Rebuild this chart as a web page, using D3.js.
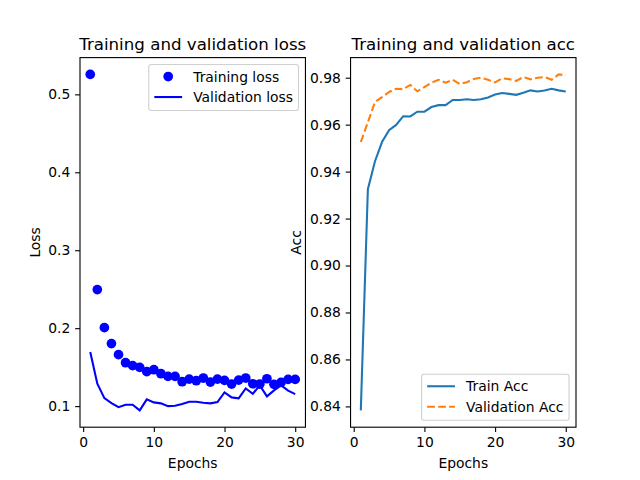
<!DOCTYPE html>
<html>
<head>
<meta charset="utf-8">
<script src="https://cdn.jsdelivr.net/npm/d3@7"></script>
<style>
 body { margin: 0; background: #fff; }
 text { font-family: "DejaVu Sans", sans-serif; fill: #000; }
</style>
</head>
<body>
<div id="chart"></div>
<script>
const epochs = [1, 2, 3, 4, 5, 6, 7, 8, 9, 10, 11, 12, 13, 14, 15, 16, 17, 18, 19, 20, 21, 22, 23, 24, 25, 26, 27, 28, 29, 30];
const trainLoss = [0.5256, 0.2495, 0.2007, 0.1802, 0.1660, 0.1557, 0.1519, 0.1497, 0.1442, 0.1467, 0.1416, 0.1382, 0.1382, 0.1313, 0.1347, 0.1326, 0.1360, 0.1308, 0.1347, 0.1330, 0.1283, 0.1334, 0.1360, 0.1287, 0.1283, 0.1351, 0.1279, 0.1304, 0.1343, 0.1343];
const valLoss = [0.1694, 0.1288, 0.1103, 0.1039, 0.0987, 0.1018, 0.1018, 0.0945, 0.1086, 0.1048, 0.1035, 0.1000, 0.1004, 0.1026, 0.1056, 0.1056, 0.1043, 0.1035, 0.1052, 0.1176, 0.1112, 0.1099, 0.1227, 0.1159, 0.1266, 0.1125, 0.1202, 0.1266, 0.1198, 0.1154];
const trainAcc = [0.8383, 0.9325, 0.9443, 0.9526, 0.9576, 0.9599, 0.9636, 0.9635, 0.9655, 0.9655, 0.9675, 0.9683, 0.9683, 0.9705, 0.9705, 0.9708, 0.9705, 0.9708, 0.9716, 0.9728, 0.9735, 0.9731, 0.9727, 0.9736, 0.9746, 0.9741, 0.9745, 0.9753, 0.9746, 0.9741];
const valAcc = [0.9526, 0.9610, 0.9696, 0.9717, 0.9739, 0.9753, 0.9751, 0.9769, 0.9742, 0.9760, 0.9779, 0.9791, 0.9779, 0.9791, 0.9773, 0.9781, 0.9794, 0.9800, 0.9791, 0.9780, 0.9797, 0.9794, 0.9786, 0.9803, 0.9793, 0.9800, 0.9803, 0.9791, 0.9814, 0.9810];
const xTicks = [0, 10, 20, 30];
const lossTicks = [0.1, 0.2, 0.3, 0.4, 0.5];
const accTicks = [0.84, 0.86, 0.88, 0.90, 0.92, 0.94, 0.96, 0.98];
const lossLabels = ["Training loss", "Validation loss"];
const accLabels = ["Train Acc", "Validation Acc"];

const W = 640, H = 480;
const plotTop = 57.6, plotBottom = 427.2;
const pt = 100 / 72; // figure is 100 dpi
const fs = 10 * pt;
const dotR = 3.5 * pt; // marker plus its edge

const svg = d3.select("#chart").append("svg")
 .attr("width", W).attr("height", H)
 .attr("viewBox", `0 0 ${W} ${H}`);

// matplotlib style 5% margins
const padded = (vals) => {
 const [a, b] = d3.extent(vals);
 const m = (b - a) * 0.05;
 return [a - m, b + m];
};

const drawPanel = (left, right, opts) => {
 const x = d3.scaleLinear().domain(padded(epochs)).range([left, right]);
 const y = d3.scaleLinear().domain(padded(opts.series.flatMap((s) => s.values))).range([plotBottom, plotTop]);
 const g = svg.append("g");

 opts.series.forEach((s) => {
  const pts = epochs.map((e, i) => [e, s.values[i]]);
  if (s.dots) {
   g.selectAll(null).data(pts).enter().append("circle")
    .attr("cx", (d) => x(d[0])).attr("cy", (d) => y(d[1]))
    .attr("r", dotR).attr("fill", s.color);
  } else {
   g.append("path")
    .attr("d", d3.line().x((d) => x(d[0])).y((d) => y(d[1]))(pts))
    .attr("fill", "none").attr("stroke", s.color)
    .attr("stroke-width", 1.5 * pt)
    .attr("stroke-dasharray", s.dash || null);
  }
 });

 const xa = g.append("g").attr("transform", `translate(0,${plotBottom})`)
  .call(d3.axisBottom(x).tickValues(xTicks).tickSize(3.5 * pt).tickPadding(3.5 * pt).tickFormat(d3.format("d")));
 const ya = g.append("g").attr("transform", `translate(${left},0)`)
  .call(d3.axisLeft(y).tickValues(opts.ticks).tickSize(3.5 * pt).tickPadding(3.5 * pt).tickFormat(d3.format(opts.fmt)));
 [xa, ya].forEach((a) => {
  a.select(".domain").remove();
  a.selectAll("line").attr("stroke", "#000").attr("stroke-width", 0.8 * pt);
  a.selectAll("text").attr("font-size", fs).attr("font-family", "DejaVu Sans");
 });

 g.append("rect")
  .attr("x", left).attr("y", plotTop).attr("width", right - left).attr("height", plotBottom - plotTop)
  .attr("fill", "none").attr("stroke", "#000").attr("stroke-width", 0.8 * pt);

 g.append("text").attr("x", (left + right) / 2).attr("y", 49.5)
  .attr("text-anchor", "middle").attr("font-size", 12 * pt).text(opts.title);
 g.append("text").attr("x", (left + right) / 2).attr("y", 468)
  .attr("text-anchor", "middle").attr("font-size", fs).text("Epochs");
 g.append("text").attr("transform", `translate(${opts.ylabelX},${(plotTop + plotBottom) / 2}) rotate(-90)`)
  .attr("text-anchor", "middle").attr("font-size", fs).text(opts.ylabel);

 // legend
 const lg = g.append("g");
 const items = opts.series.map((s, i) => ({ ...s, label: opts.labels[i] }));
 const texts = lg.selectAll(null).data(items).enter().append("text")
  .attr("font-size", fs).text((d) => d.label);
 const tw = d3.max(texts.nodes(), (n) => n.getComputedTextLength());
 const pad = 0.4 * fs, hl = 2 * fs, htp = 0.8 * fs;
 const bw = pad + hl + htp + tw + pad;
 const bh = 46;
 const bx = right - 0.5 * fs - bw;
 const by = opts.legendTop ? plotTop + 0.5 * fs : plotBottom - 0.5 * fs - bh;
 lg.insert("rect", "text")
  .attr("x", bx).attr("y", by).attr("width", bw).attr("height", bh)
  .attr("rx", 2.5).attr("fill", "#fff").attr("fill-opacity", 0.8)
  .attr("stroke", "#d0d0d0").attr("stroke-width", 0.8 * pt);
 const rowY = (i) => by + 12 + i * 20.5;
 texts.attr("x", bx + pad + hl + htp).attr("y", (d, i) => rowY(i) + 5);
 items.forEach((d, i) => {
  if (d.dots) {
   lg.append("circle").attr("cx", bx + pad + hl / 2).attr("cy", rowY(i))
    .attr("r", dotR).attr("fill", d.color);
  } else {
   lg.append("line").attr("x1", bx + pad).attr("x2", bx + pad + hl)
    .attr("y1", rowY(i)).attr("y2", rowY(i))
    .attr("stroke", d.color).attr("stroke-width", 1.5 * pt)
    .attr("stroke-dasharray", d.dash || null);
  }
 });
};

drawPanel(80, 305.45, {
 series: [
  { values: trainLoss, color: "#0000ff", dots: true },
  { values: valLoss, color: "#0000ff" }
 ],
 labels: lossLabels,
 ticks: lossTicks,
 fmt: ".1f",
 title: "Training and validation loss",
 ylabel: "Loss",
 ylabelX: 39.5,
 legendTop: true
});

drawPanel(350.55, 576, {
 series: [
  { values: trainAcc, color: "#1f77b4" },
  { values: valAcc, color: "#ff7f0e", dash: "7.7,3.3" }
 ],
 labels: accLabels,
 ticks: accTicks,
 fmt: ".2f",
 title: "Training and validation acc",
 ylabel: "Acc",
 ylabelX: 301,
 legendTop: false
});
</script>
</body>
</html>
